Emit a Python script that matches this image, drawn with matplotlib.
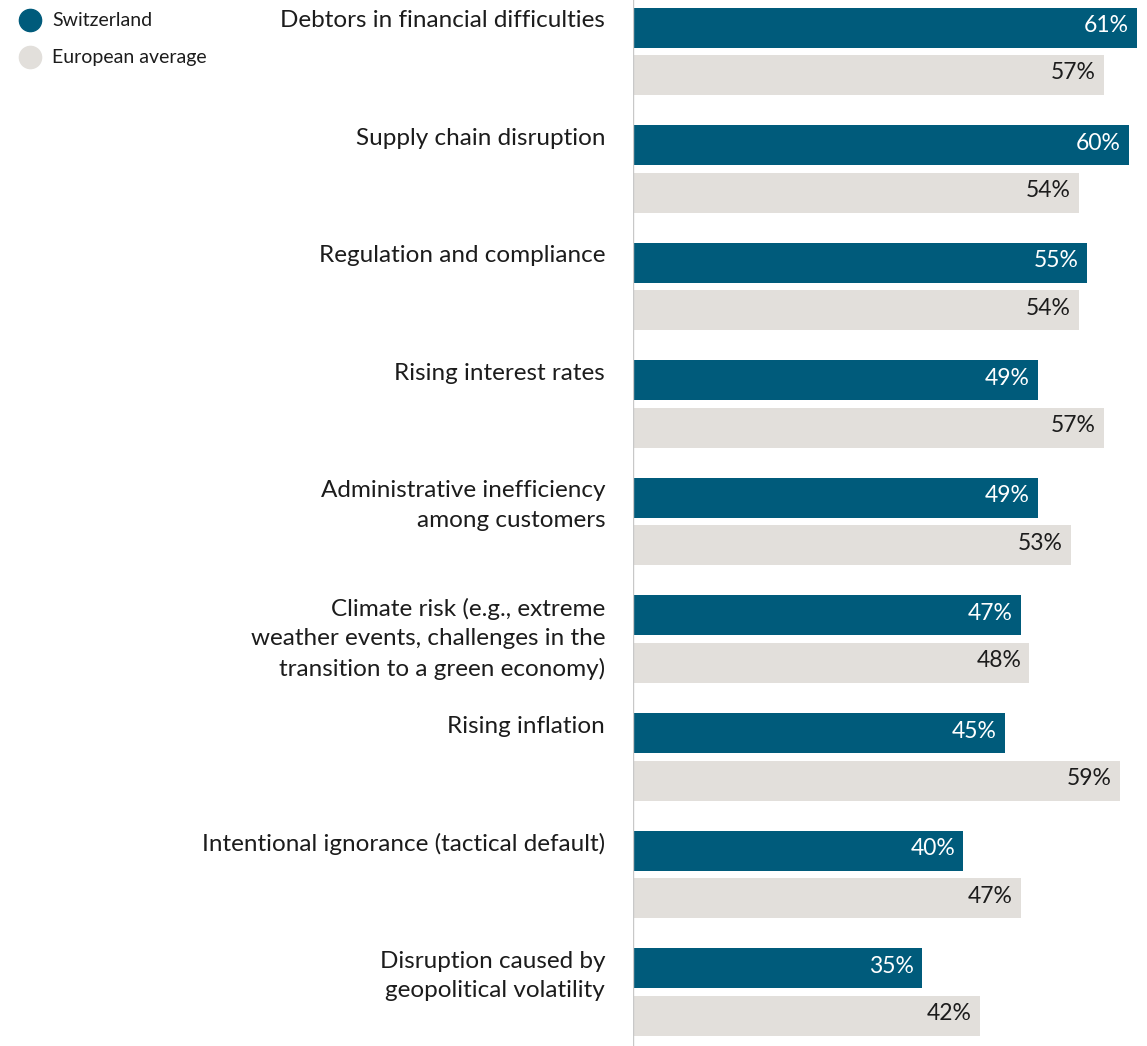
import matplotlib
matplotlib.use("Agg")
import matplotlib.pyplot as plt
from matplotlib.lines import Line2D

plt.rcParams['font.family'] = ['Lato', 'DejaVu Sans']

categories = [
    "Debtors in financial difficulties",
    "Supply chain disruption",
    "Regulation and compliance",
    "Rising interest rates",
    "Administrative inefficiency\namong customers",
    "Climate risk (e.g., extreme\nweather events, challenges in the\ntransition to a green economy)",
    "Rising inflation",
    "Intentional ignorance (tactical default)",
    "Disruption caused by\ngeopolitical volatility",
]
switzerland = [61, 60, 55, 49, 49, 47, 45, 40, 35]
europe = [57, 54, 54, 57, 53, 48, 59, 47, 42]
series_names = ["Switzerland", "European average"]

BLUE = "#005b7b"
GREY = "#e2dfdb"
TEXT = "#1c1c1c"

W, H = 1147, 1046
fig = plt.figure(figsize=(W / 100, H / 100), dpi=100)
ax_left = 633 / W
ax = fig.add_axes([ax_left, 0, 1 - ax_left, 1])

group = 117.6  # pixels per category group
ax.set_ylim(H / group, 0)
ax.set_xlim(0, (W - 633) / 8.26)

bar_h = 40 / group
off_sw = 27.5 / group
off_eu = 75 / group
ys = range(len(categories))
y_sw = [i + off_sw for i in ys]
y_eu = [i + off_eu for i in ys]

ax.barh(y_sw, switzerland, height=bar_h, color=BLUE, zorder=2)
ax.barh(y_eu, europe, height=bar_h, color=GREY, zorder=2)

for y, v in zip(y_sw, switzerland):
    ax.annotate(f"{v}%", (v, y), xytext=(-6, 1.5), textcoords="offset points",
                ha="right", va="center", color="white", fontsize=16.5)
for y, v in zip(y_eu, europe):
    ax.annotate(f"{v}%", (v, y), xytext=(-6, 1.5), textcoords="offset points",
                ha="right", va="center", color=TEXT, fontsize=16.5)

for i, label in enumerate(categories):
    ax.annotate(label, (0, i + 10 / group), xytext=(-20, 0), textcoords="offset points",
                ha="right", va="top", color=TEXT, fontsize=17.5, linespacing=1.48,
                annotation_clip=False)

ax.axvline(0, color="#c8c8c8", lw=1, zorder=3)
for s in ax.spines.values():
    s.set_visible(False)
ax.set_xticks([])
ax.set_yticks([])

# legend: round swatches with series names, top-left corner
for k, (name, c) in enumerate(zip(series_names, (BLUE, GREY))):
    yp = 1 - (20 + 37 * k) / H
    fig.add_artist(Line2D([30 / W], [yp], marker="o", ls="none", markersize=16,
                          markerfacecolor=c, markeredgecolor=c,
                          transform=fig.transFigure))
    fig.text(52 / W, yp, name, ha="left", va="center", fontsize=14, color=TEXT)

fig.savefig("out.png", dpi=100)
